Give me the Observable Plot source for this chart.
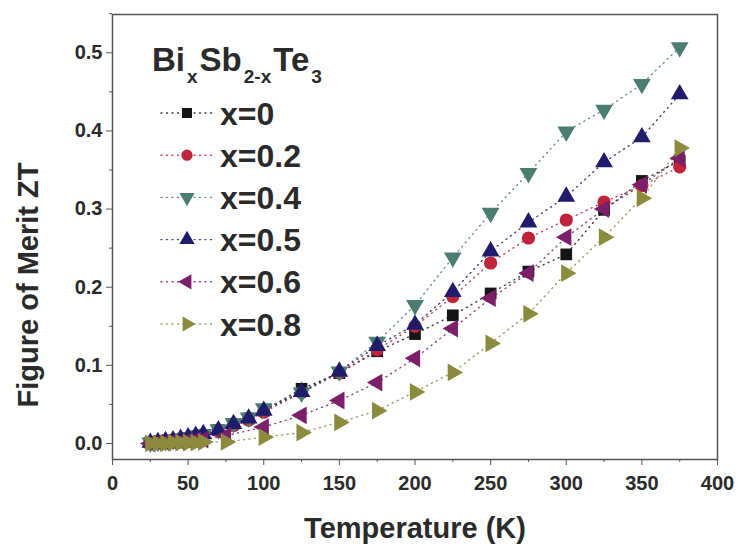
<!DOCTYPE html>
<html><head><meta charset="utf-8">
<script src="https://cdn.jsdelivr.net/npm/d3@7"></script>
<script src="https://cdn.jsdelivr.net/npm/@observablehq/plot@0.6"></script>
<style>
body{margin:0;background:#fff;}
#chart{position:relative;width:739px;height:551px;}
</style>
</head><body><div id="chart"></div>
<script>
// ---- data ----
const seriesLabels = ["x=0", "x=0.2", "x=0.4", "x=0.5", "x=0.6", "x=0.8"];
const seriesColors = ["#151515", "#c0233a", "#4b7d73", "#201c6c", "#7c1f6b", "#8c8a3c"];
const seriesSymbols = ["square", "circle", "triangle", "triangle", "triangle", "triangle"];
const seriesRotate = [0, 0, 180, 0, -90, 90];

const tempA = [25,30,35,40,45,50,55,60,70,80,90,100,125,150,175,200,225,250,275,300,325,350,375];
const tempB = [25,30,35,40,45,50,55,60,75,100,125,150,175,200,225,250,275,300,325,350,375];

const zt_x0  = [0.001,0.002,0.003,0.004,0.005,0.007,0.009,0.011,0.017,0.025,0.032,0.042,0.070,0.090,0.118,0.140,0.164,0.192,0.220,0.242,0.299,0.336,0.362];
const zt_x02 = [0.001,0.002,0.003,0.004,0.005,0.007,0.009,0.011,0.016,0.023,0.030,0.040,0.065,0.090,0.120,0.150,0.188,0.231,0.263,0.286,0.309,0.330,0.354];
const zt_x04 = [0.001,0.002,0.003,0.004,0.006,0.008,0.010,0.012,0.018,0.026,0.033,0.045,0.065,0.092,0.130,0.177,0.238,0.295,0.346,0.399,0.427,0.460,0.507];
const zt_x05 = [0.001,0.002,0.003,0.004,0.006,0.008,0.010,0.012,0.017,0.025,0.032,0.042,0.066,0.092,0.125,0.152,0.194,0.246,0.283,0.316,0.360,0.392,0.447];
const zt_x06 = [0.000,0.001,0.001,0.002,0.002,0.003,0.004,0.005,0.010,0.021,0.036,0.055,0.078,0.109,0.147,0.186,0.218,0.264,0.300,0.331,0.365];
const zt_x08 = [0.000,0.000,0.000,0.001,0.001,0.001,0.001,0.002,0.002,0.008,0.014,0.027,0.042,0.066,0.091,0.128,0.166,0.218,0.264,0.314,0.378];

const seriesTemps = [tempA, tempA, tempA, tempA, tempB, tempB];
const seriesValues = [zt_x0, zt_x02, zt_x04, zt_x05, zt_x06, zt_x08];

const xMajorTicks = [0,50,100,150,200,250,300,350,400];
const xMinorTicks = [25,75,125,175,225,275,325,375];
const yMajorTicks = [0,0.1,0.2,0.3,0.4,0.5];
const yMinorTicks = [0.05,0.15,0.25,0.35,0.45,0.55];

const xLabel = "Temperature (K)";
const yLabel = "Figure of Merit ZT";

// ---- table ----
const rows = [];
seriesLabels.forEach((s, i) => {
  seriesTemps[i].forEach((t, j) => {
    rows.push({T: t, zt: seriesValues[i][j], series: s, sym: seriesSymbols[i], rot: seriesRotate[i]});
  });
});

const font = "'Liberation Sans', Arial, Helvetica, sans-serif";
const textColor = "#2a2a2a";

const plot = Plot.plot({
  width: 739, height: 551,
  marginLeft: 112, marginRight: 22, marginTop: 14, marginBottom: 92,
  x: {domain: [0, 400]},
  y: {domain: [-0.0205, 0.549]},
  color: {domain: seriesLabels, range: seriesColors},
  style: {fontFamily: font, background: "white", color: textColor},
  marks: [
    Plot.line(rows, {x: "T", y: "zt", z: "series", stroke: "series", strokeWidth: 1.4, strokeOpacity: 0.85, strokeDasharray: "1,4.5", strokeLinecap: "round"}),
    Plot.dot(rows, {x: "T", y: "zt", symbol: "sym", rotate: "rot", fill: "series", r: 6.6, stroke: null}),
    Plot.frame({stroke: "#555", strokeWidth: 1.5}),
    Plot.axisX(xMajorTicks, {tickSize: 6, tickPadding: 10, fontSize: 20, fontWeight: "bold", label: null, stroke: "#555", fill: textColor}),
    Plot.axisX(xMinorTicks, {tickSize: 3, tickFormat: () => "", label: null, stroke: "#555"}),
    Plot.axisY(yMajorTicks, {tickSize: 6, tickPadding: 4, fontSize: 20, fontWeight: "bold", label: null, tickFormat: d3.format(".1f"), stroke: "#555", fill: textColor}),
    Plot.axisY(yMinorTicks, {tickSize: 3, tickFormat: () => "", label: null, stroke: "#555"}),
    Plot.text([xLabel], {frameAnchor: "bottom", textAnchor: "middle", lineAnchor: "middle", dy: 69, fontSize: 29, fontWeight: "bold", fill: textColor}),
    Plot.text([yLabel], {frameAnchor: "left", textAnchor: "middle", lineAnchor: "middle", dx: -84, dy: 48, rotate: -90, fontSize: 29, fontWeight: "bold", fill: textColor})
  ]
});

document.getElementById("chart").appendChild(plot);

// ---- legend (inside the plot frame, top-left) ----
const svg = d3.select(plot);
const lg = svg.append("g").attr("font-family", font).attr("font-weight", "bold")
  .attr("fill", textColor).attr("text-anchor", "start");
const title = lg.append("text").attr("x", 152).attr("y", 71).attr("font-size", 33);
title.append("tspan").text("Bi");
title.append("tspan").attr("font-size", 19).attr("dx", 2).attr("dy", 12).text("x");
title.append("tspan").attr("dx", 2).attr("dy", -12).text("Sb");
title.append("tspan").attr("font-size", 19).attr("dx", 2).attr("dy", 12).text("2-x");
title.append("tspan").attr("dx", 2).attr("dy", -12).text("Te");
title.append("tspan").attr("font-size", 19).attr("dx", 2).attr("dy", 12).text("3");

const symMap = {square: d3.symbolSquare, circle: d3.symbolCircle, triangle: d3.symbolTriangle};
seriesLabels.forEach((s, i) => {
  const cy = 113 + i * 42.2;
  lg.append("line").attr("x1", 161).attr("x2", 213).attr("y1", cy).attr("y2", cy)
    .attr("stroke", seriesColors[i]).attr("stroke-width", 1.4).attr("stroke-opacity", 0.85)
    .attr("stroke-dasharray", "1,4.5").attr("stroke-linecap", "round");
  lg.append("path").attr("d", d3.symbol(symMap[seriesSymbols[i]], 100)())
    .attr("transform", `translate(187,${cy}) rotate(${seriesRotate[i]})`)
    .attr("fill", seriesColors[i]);
  lg.append("text").attr("x", 220).attr("y", cy).attr("dy", "0.36em").attr("font-size", 32).text(s);
});
</script>
</body></html>
